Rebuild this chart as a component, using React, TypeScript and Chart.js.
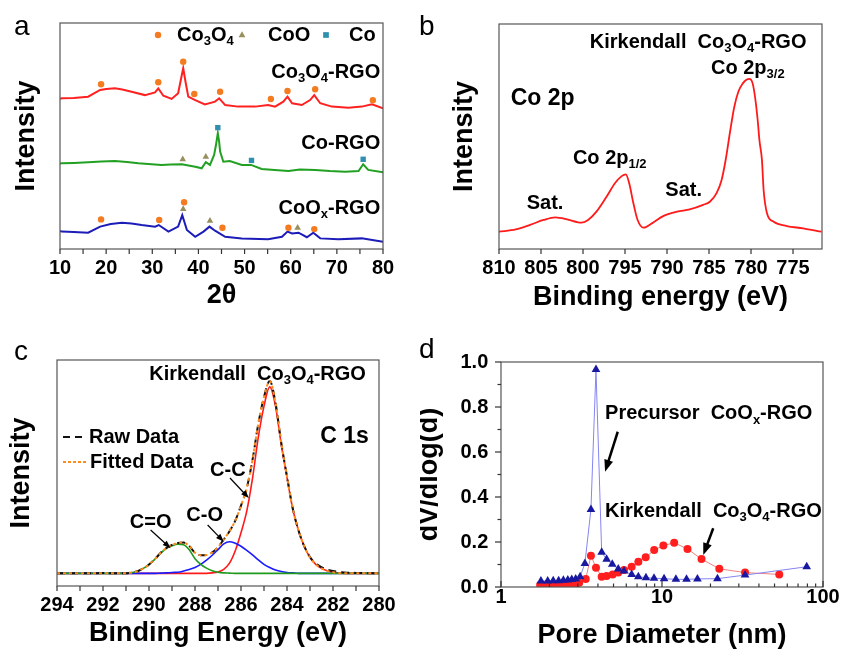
import React, { useEffect, useRef } from 'react';
import { Chart, registerables } from 'chart.js';

Chart.register(...registerables);

const FONT = '"Liberation Sans", Arial, Helvetica, sans-serif';
const TICK_FONT = { family: FONT, size: 20, weight: 'bold' };
const TITLE_FONT = { family: FONT, size: 27, weight: 'bold' };

// ---------------- Panel a : XRD ----------------
const aXTicks = [10, 20, 30, 40, 50, 60, 70, 80];
const aXMinor = [15, 25, 35, 45, 55, 65, 75];
const aCo3O4RgoX = [10, 10.4, 13, 16.1, 18.7, 20, 21.9, 23.5, 25.5, 28.4, 30.6, 31.3, 32.4, 34.2, 35.6, 36.4, 36.7, 37.2, 37.8, 39.3, 41.4, 43.6, 44.5, 45.8, 48.6, 52.3, 55.1, 56.6, 58.4, 59.3, 60.3, 62.4, 64.2, 65.1, 66.4, 68.9, 72.5, 75.4, 77.6, 80];
const aCo3O4RgoY = [66.4, 66.7, 66.8, 67.4, 70.4, 70.8, 71.1, 70.6, 69.6, 68.1, 69.3, 71.1, 67.8, 66.4, 68.9, 77, 80, 74, 67.4, 65.9, 64, 65.2, 66.7, 63.7, 63, 63, 63.7, 63, 65.2, 67.4, 64.5, 63.7, 65.9, 68.1, 64.5, 63, 62.5, 63, 64, 62.3];
const aCoRgoX = [10, 10.4, 13, 16.1, 19, 21.9, 24.5, 27, 32, 34, 36.4, 39.3, 40.7, 41.6, 42.5, 43.4, 43.8, 44.2, 44.5, 44.7, 45.4, 46.8, 49.4, 51.4, 53.7, 56.5, 59.5, 62, 65.3, 68.5, 71.8, 74.7, 75.7, 76.8, 80];
const aCoRgoY = [37.8, 37.9, 38.1, 38.4, 38.7, 38.9, 38.5, 37.9, 37.2, 37.4, 37.5, 36.4, 35.7, 38.4, 37.2, 41.6, 46, 51.2, 47.3, 43.1, 38.6, 38.9, 37.2, 37.2, 35.4, 35, 34.5, 35.2, 35, 34.5, 34.2, 34.5, 37.5, 35, 33.9];
const aCoOxRgoX = [10, 10.4, 13, 16.1, 18.7, 21, 23.4, 25.5, 27.7, 30.6, 31.4, 33.5, 35.6, 36.5, 37.5, 39.3, 41.1, 42.4, 43.6, 45.8, 49.4, 55.1, 58.1, 59.3, 60.3, 61.7, 63.5, 64.9, 66.4, 70.3, 75.4, 80];
const aCoOxRgoY = [8, 7.7, 7.5, 7.2, 9.9, 11.1, 11.6, 11.3, 10.6, 9.9, 10.6, 7.7, 9.9, 15, 8.4, 5.4, 7.7, 9.9, 8.1, 5.4, 4.7, 4.3, 5.4, 7.7, 6.9, 7.2, 5.2, 7.2, 4.7, 4.3, 4.7, 3.2];
const aCo3O4MarkX = [18.9, 31.3, 36.7, 39.1, 44.7, 55.7, 59.3, 65.3, 77.8, 18.9, 31.5, 36.9, 45.2, 59.5, 65.1];
const aCo3O4MarkY = [72.9, 73.8, 82.9, 68.6, 69.6, 66.4, 69.9, 70.7, 65.8, 13.1, 12.8, 20.7, 9.4, 9.4, 8.8];
const aCoOMarkX = [36.6, 41.6, 36.7, 42.5, 61.5];
const aCoOMarkY = [39.7, 40.8, 17.7, 12.5, 9.4];
const aCoMarkX = [44.2, 51.5, 75.7];
const aCoMarkY = [53.7, 39.2, 39.7];
const aLegendLabels = ['Co_3O_4', 'CoO', 'Co'];
const aSampleLabels = ['Co_3O_4-RGO', 'Co-RGO', 'CoO_x-RGO'];

// ---------------- Panel b : Co 2p XPS ----------------
const bXTicks = [810, 805, 800, 795, 790, 785, 780, 775];
const bEnergy = [810, 808, 806.3, 804.7, 803.3, 801.9, 800.75, 800.2, 799.4, 798.4, 797.2, 796.2, 795.4, 794.9, 794.5, 794.0, 793.5, 792.8, 791.8, 790.4, 788.8, 787.3, 785.7, 784.9, 784.1, 783.5, 783, 782.5, 782, 781.5, 781, 780.5, 780.2, 779.8, 779.5, 779.2, 779, 778.7, 778.5, 778.1, 777.3, 775.75, 773.8, 771.6];
const bIntensity = [7.7, 8.7, 10.7, 12.9, 14.1, 13.2, 12, 11.7, 12.9, 16.6, 23.2, 29.2, 32.4, 33.2, 29.2, 20.3, 12.9, 9.5, 11.4, 14.7, 16.6, 17.6, 19.6, 21, 24.8, 30.7, 40, 52, 63, 70, 73.5, 75.3, 75.6, 73.5, 67, 57, 48.4, 39.6, 26.2, 15.9, 12.1, 10.2, 9.2, 7.7];

// ---------------- Panel c : C 1s XPS ----------------
const cXTicks = [294, 292, 290, 288, 286, 284, 282, 280];
const cXMinor = [293, 291, 289, 287, 285, 283, 281];
const cEnergy = [294, 292, 291, 290.75, 290.5, 290.25, 290, 289.75, 289.5, 289.25, 289, 288.75, 288.5, 288.25, 288, 287.75, 287.5, 287.25, 287, 286.75, 286.5, 286.25, 286, 285.75, 285.5, 285.25, 285, 284.75, 284.5, 284.25, 284, 283.75, 283.5, 283.25, 283, 282.75, 282.5, 282.25, 282, 281.5, 281, 280];
const cRaw = [5.6, 5.7, 5.6, 6.0, 6.5, 7.8, 9.5, 11.8, 14.6, 16.8, 18.2, 19.0, 19.2, 17.7, 14.7, 13.6, 13.7, 14.9, 17.2, 20.6, 24.2, 28.9, 35.6, 43.3, 55.8, 71.6, 83.6, 90.7, 81.1, 63.4, 48.5, 34.3, 24.6, 17.6, 12.8, 9.9, 8.4, 7.2, 6.6, 6.0, 5.8, 5.6];
const cFitted = [5.6, 5.6, 5.6, 6.0, 6.5, 7.8, 9.5, 11.8, 14.6, 16.8, 18.2, 19.0, 19.2, 17.7, 14.7, 13.6, 13.7, 14.9, 17.2, 20.6, 24.2, 28.9, 35.6, 43.3, 55.8, 71.6, 83.6, 90.7, 81.1, 63.4, 48.5, 34.3, 24.6, 17.6, 12.6, 9.6, 7.8, 6.7, 6.1, 5.6, 5.6, 5.6];
const cCC = [5.6, 5.6, 5.6, 5.6, 5.6, 5.6, 5.6, 5.6, 5.6, 5.6, 5.6, 5.6, 5.6, 5.6, 5.6, 5.6, 5.6, 5.8, 6.2, 7.4, 10.1, 15.6, 23.6, 33.1, 47.6, 65.6, 79.6, 88.1, 79.6, 62.6, 48.1, 34.1, 24.6, 17.6, 12.6, 9.6, 7.8, 6.7, 6.1, 5.6, 5.6, 5.6];
const cCO = [5.6, 5.6, 5.6, 5.6, 5.6, 5.6, 5.6, 5.6, 5.7, 5.8, 6.0, 6.1, 6.6, 7.3, 8.2, 9.6, 11.4, 13.6, 16.1, 18.6, 19.6, 18.9, 17.6, 15.8, 13.8, 11.6, 9.6, 8.2, 7.1, 6.4, 6.0, 5.8, 5.6, 5.6, 5.6, 5.6, 5.6, 5.6, 5.6, 5.6, 5.6, 5.6];
const cCdO = [5.6, 5.6, 5.6, 6.0, 6.5, 7.8, 9.5, 11.8, 14.5, 16.6, 17.8, 18.5, 18.2, 16.0, 12.1, 9.6, 7.9, 6.7, 6.1, 5.8, 5.7, 5.6, 5.6, 5.6, 5.6, 5.6, 5.6, 5.6, 5.6, 5.6, 5.6, 5.6, 5.6, 5.6, 5.6, 5.6, 5.6, 5.6, 5.6, 5.6, 5.6, 5.6];

// ---------------- Panel d : pore size distribution ----------------
const dXTicks = [1, 10, 100];
const dXMinor = [2, 3, 4, 5, 6, 7, 8, 9, 20, 30, 40, 50, 60, 70, 80, 90];
const dYTicks = [0, 0.2, 0.4, 0.6, 0.8, 1.0];
const dYMinor = [0.1, 0.3, 0.5, 0.7, 0.9];
const dPrecursorX = [1.77, 1.95, 2.11, 2.28, 2.44, 2.6, 2.75, 2.91, 3.1, 3.32, 3.62, 3.89, 4.22, 4.53, 4.91, 5.35, 5.81, 6.48, 7.13, 7.95, 8.92, 10.3, 12.2, 14.2, 16.6, 22.1, 32.8, 79.2];
const dPrecursorY = [0.027, 0.027, 0.028, 0.028, 0.03, 0.031, 0.033, 0.036, 0.046, 0.105, 0.345, 0.967, 0.154, 0.123, 0.101, 0.08, 0.071, 0.056, 0.046, 0.041, 0.039, 0.037, 0.034, 0.034, 0.036, 0.037, 0.053, 0.09];
const dKirkX = [1.75, 1.88, 2.02, 2.13, 2.27, 2.4, 2.53, 2.68, 2.78, 2.95, 3.06, 3.36, 3.62, 3.89, 4.22, 4.53, 4.94, 5.35, 5.81, 6.48, 7.13, 7.92, 8.94, 10.2, 11.9, 14.4, 17.6, 22.7, 32.8, 53.5];
const dKirkY = [0.009, 0.009, 0.009, 0.01, 0.01, 0.01, 0.012, 0.012, 0.013, 0.015, 0.019, 0.036, 0.139, 0.086, 0.046, 0.049, 0.056, 0.065, 0.076, 0.09, 0.112, 0.132, 0.164, 0.184, 0.197, 0.169, 0.124, 0.081, 0.064, 0.056];

// ---------------- helpers ----------------
function pts(xs: number[], ys: number[]) {
  return xs.map((x, i) => ({ x, y: ys[i] }));
}

function parseRich(s: string) {
  const out: { t: string; sub: boolean }[] = [];
  let buf = '';
  for (let i = 0; i < s.length; i++) {
    if (s[i] === '_') {
      if (buf) { out.push({ t: buf, sub: false }); buf = ''; }
      if (s[i + 1] === '{') {
        const j = s.indexOf('}', i);
        out.push({ t: s.slice(i + 2, j), sub: true });
        i = j;
      } else {
        out.push({ t: s[i + 1], sub: true });
        i++;
      }
    } else buf += s[i];
  }
  if (buf) out.push({ t: buf, sub: false });
  return out;
}

function rich(ctx: CanvasRenderingContext2D, s: string, x: number, y: number, align: string, size = 20, weight = 'bold') {
  const segs = parseRich(s);
  const sub = Math.round(size * 0.65);
  const widths = segs.map((g) => {
    ctx.font = `${weight} ${g.sub ? sub : size}px ${FONT}`;
    return ctx.measureText(g.t).width;
  });
  const total = widths.reduce((a, b) => a + b, 0);
  let cx = align === 'left' ? x : align === 'right' ? x - total : x - total / 2;
  ctx.fillStyle = '#000';
  ctx.textAlign = 'left';
  ctx.textBaseline = 'middle';
  segs.forEach((g, i) => {
    ctx.font = `${weight} ${g.sub ? sub : size}px ${FONT}`;
    ctx.fillText(g.t, cx, g.sub ? y + size * 0.3 : y);
    cx += widths[i];
  });
}

function arrow(ctx: CanvasRenderingContext2D, x1: number, y1: number, x2: number, y2: number, w: number, hl: number, hw: number) {
  const a = Math.atan2(y2 - y1, x2 - x1);
  const c = Math.cos(a), s = Math.sin(a);
  ctx.strokeStyle = '#000';
  ctx.fillStyle = '#000';
  ctx.lineWidth = w;
  ctx.beginPath();
  ctx.moveTo(x1, y1);
  ctx.lineTo(x2 - c * hl * 0.7, y2 - s * hl * 0.7);
  ctx.stroke();
  ctx.beginPath();
  ctx.moveTo(x2, y2);
  ctx.lineTo(x2 - hl * c + (hw / 2) * s, y2 - hl * s - (hw / 2) * c);
  ctx.lineTo(x2 - hl * c - (hw / 2) * s, y2 - hl * s + (hw / 2) * c);
  ctx.closePath();
  ctx.fill();
}

function symbol(ctx: CanvasRenderingContext2D, kind: string, x: number, y: number, r: number, color: string) {
  ctx.fillStyle = color;
  ctx.beginPath();
  if (kind === 'circle') ctx.arc(x, y, r, 0, Math.PI * 2);
  else if (kind === 'triangle') {
    ctx.moveTo(x, y - r);
    ctx.lineTo(x + r * 0.9, y + r * 0.6);
    ctx.lineTo(x - r * 0.9, y + r * 0.6);
    ctx.closePath();
  } else ctx.rect(x - r * 0.75, y - r * 0.75, r * 1.5, r * 1.5);
  ctx.fill();
}

function makeDecor(cfg: any) {
  return {
    id: 'decor',
    afterDraw(chart: any) {
      const { ctx, chartArea: ca } = chart;
      const xs = chart.scales.x;
      const ys = chart.scales.y;
      ctx.save();
      ctx.setLineDash([]);
      ctx.strokeStyle = '#555';
      ctx.lineWidth = 1.2;
      ctx.strokeRect(ca.left, ca.top, ca.right - ca.left, ca.bottom - ca.top);
      ctx.strokeStyle = '#333';
      const xt = (vals: number[], len: number) => vals.forEach((v) => {
        const p = xs.getPixelForValue(v);
        ctx.beginPath(); ctx.moveTo(p, ca.bottom); ctx.lineTo(p, ca.bottom + len); ctx.stroke();
      });
      const yt = (vals: number[], len: number) => vals.forEach((v) => {
        const p = ys.getPixelForValue(v);
        ctx.beginPath(); ctx.moveTo(ca.left, p); ctx.lineTo(ca.left - len, p); ctx.stroke();
      });
      if (cfg.xMajor) xt(cfg.xMajor, cfg.xMajorLen);
      if (cfg.xMinor) xt(cfg.xMinor, cfg.xMinorLen);
      if (cfg.yMajor) yt(cfg.yMajor, cfg.yMajorLen);
      if (cfg.yMinor) yt(cfg.yMinor, cfg.yMinorLen);
      (cfg.texts || []).forEach((t: any) => {
        rich(ctx, t.s, xs.getPixelForValue(t.x), ys.getPixelForValue(t.y), t.align, t.size || 20);
      });
      (cfg.arrows || []).forEach((a: any) => {
        arrow(ctx, xs.getPixelForValue(a.x1), ys.getPixelForValue(a.y1), xs.getPixelForValue(a.x2), ys.getPixelForValue(a.y2), a.w, a.hl, a.hw);
      });
      if (cfg.extra) cfg.extra(ctx, ca);
      if (cfg.letter) {
        ctx.fillStyle = '#000';
        ctx.font = `normal 28px ${FONT}`;
        ctx.textAlign = 'left';
        ctx.textBaseline = 'alphabetic';
        ctx.fillText(cfg.letter.s, cfg.letter.x, cfg.letter.y);
      }
      ctx.restore();
    },
  };
}

function buildOptions(p: any) {
  return {
    responsive: false,
    maintainAspectRatio: false,
    animation: false,
    devicePixelRatio: 1,
    events: [],
    layout: { padding: p.pad },
    plugins: { legend: { display: false }, tooltip: { enabled: false }, title: { display: false } },
    scales: {
      x: {
        type: p.xType || 'linear',
        min: p.xMin,
        max: p.xMax,
        reverse: !!p.xReverse,
        grid: { display: false, drawTicks: false },
        border: { display: false },
        afterBuildTicks: (s: any) => { s.ticks = p.xTicks.map((v: number) => ({ value: v })); },
        afterFit: (s: any) => { s.height = p.xHeight; },
        ticks: {
          autoSkip: false, maxRotation: 0, minRotation: 0, padding: p.xLabelPad, color: '#000', font: TICK_FONT,
          callback: (v: any) => String(v),
        },
        title: { display: true, text: p.xTitle, color: '#000', font: TITLE_FONT, padding: { top: 0, bottom: p.xTitlePad } },
      },
      y: {
        type: 'linear',
        position: 'left',
        min: p.yMin,
        max: p.yMax,
        grid: { display: false, drawTicks: false },
        border: { display: false },
        afterBuildTicks: (s: any) => { if (p.yTicks) s.ticks = p.yTicks.map((v: number) => ({ value: v })); },
        afterFit: (s: any) => { s.width = p.yWidth; },
        ticks: {
          display: !!p.yTicks, autoSkip: false, padding: p.yLabelPad || 0, color: '#000', font: TICK_FONT,
          callback: (v: any) => Number(v).toFixed(1),
        },
        title: { display: true, text: p.yTitle, color: '#000', font: TITLE_FONT, padding: { top: p.yTitlePad, bottom: 0 } },
      },
    },
  };
}

function lineDs(data: any[], color: string, width: number, extra: any = {}) {
  return { data, borderColor: color, backgroundColor: color, borderWidth: width, pointRadius: 0, fill: false, tension: 0, ...extra };
}

function markDs(data: any[], style: string, r: number, color: string) {
  return {
    data, showLine: false, pointStyle: style, pointRadius: r, pointBorderWidth: 0,
    pointBackgroundColor: color, pointBorderColor: color, borderColor: color, backgroundColor: color,
  };
}

// ---------------- panel configs ----------------
function makeA() {
  return {
    type: 'line',
    data: {
      datasets: [
        markDs(pts(aCo3O4MarkX, aCo3O4MarkY), 'circle', 3.2, '#f47b20'),
        markDs(pts(aCoOMarkX, aCoOMarkY), 'triangle', 3.8, '#978f5c'),
        markDs(pts(aCoMarkX, aCoMarkY), 'rect', 3.8, '#2e8fae'),
        lineDs(pts(aCo3O4RgoX, aCo3O4RgoY), '#ff2020', 2),
        lineDs(pts(aCoRgoX, aCoRgoY), '#22a022', 2),
        lineDs(pts(aCoOxRgoX, aCoOxRgoY), '#1c1cb8', 2),
      ],
    },
    options: buildOptions({
      pad: { left: 0, right: 37, top: 23, bottom: 0 },
      xMin: 10, xMax: 80, xTicks: aXTicks, xLabelPad: 7, xHeight: 76, xTitle: '2θ', xTitlePad: 13,
      yMin: 0, yMax: 100, yWidth: 60, yTitle: 'Intensity', yTitlePad: 10.8,
    }),
    plugins: [makeDecor({
      xMajor: aXTicks, xMajorLen: 5, xMinor: aXMinor, xMinorLen: 5,
      texts: [
        { x: 79.4, y: 78.3, s: aSampleLabels[0], align: 'right' },
        { x: 79.4, y: 46.9, s: aSampleLabels[1], align: 'right' },
        { x: 79.4, y: 18.1, s: aSampleLabels[2], align: 'right' },
      ],
      extra: (ctx: CanvasRenderingContext2D, ca: any) => {
        const y = ca.top + 12;
        symbol(ctx, 'circle', ca.left + 98, y, 3.2, '#f47b20');
        rich(ctx, aLegendLabels[0], ca.left + 117, y, 'left');
        symbol(ctx, 'triangle', ca.left + 182, y, 3.8, '#978f5c');
        rich(ctx, aLegendLabels[1], ca.left + 208, y, 'left');
        symbol(ctx, 'rect', ca.left + 266, y, 3.8, '#2e8fae');
        rich(ctx, aLegendLabels[2], ca.left + 289, y, 'left');
      },
      letter: { s: 'a', x: 14, y: 35 },
    })],
  };
}

function makeB() {
  return {
    type: 'line',
    data: {
      datasets: [
        lineDs(pts(bEnergy, bIntensity), '#ff1a1a', 1.8, { cubicInterpolationMode: 'monotone' }),
      ],
    },
    options: buildOptions({
      pad: { left: 0, right: 19, top: 24, bottom: 0 },
      xMin: 771.55, xMax: 810, xReverse: true, xTicks: bXTicks, xLabelPad: 7, xHeight: 76, xTitle: 'Binding energy (eV)', xTitlePad: 11.5,
      yMin: 0, yMax: 100, yWidth: 79, yTitle: 'Intensity', yTitlePad: 28.8,
    }),
    plugins: [makeDecor({
      xMajor: bXTicks, xMajorLen: 5,
      texts: [
        { x: 773.4, y: 91.6, s: 'Kirkendall  Co_3O_4-RGO', align: 'right' },
        { x: 776, y: 80.4, s: 'Co 2p_{3/2}', align: 'right' },
        { x: 808.6, y: 66.7, s: 'Co 2p', align: 'left', size: 23 },
        { x: 801.2, y: 40.4, s: 'Co 2p_{1/2}', align: 'left' },
        { x: 806.7, y: 20.4, s: 'Sat.', align: 'left' },
        { x: 790.2, y: 26.2, s: 'Sat.', align: 'left' },
      ],
      letter: { s: 'b', x: -1, y: 35 },
    })],
  };
}

function makeC() {
  const mono = { cubicInterpolationMode: 'monotone' };
  return {
    type: 'line',
    data: {
      datasets: [
        lineDs(pts(cEnergy, cFitted), '#ff8c1a', 2, { ...mono, borderDash: [3, 3] }),
        lineDs(pts(cEnergy, cRaw), '#111111', 2, { ...mono, borderDash: [8, 5] }),
        lineDs(pts(cEnergy, cCdO), '#1f9a1f', 1.6, mono),
        lineDs(pts(cEnergy, cCO), '#1a1aff', 1.6, mono),
        lineDs(pts(cEnergy, cCC), '#ff1a1a', 1.6, mono),
      ],
    },
    options: buildOptions({
      pad: { left: 0, right: 41, top: 35, bottom: 0 },
      xMin: 280, xMax: 294, xReverse: true, xTicks: cXTicks, xLabelPad: 7, xHeight: 64, xTitle: 'Binding Energy (eV)', xTitlePad: 0.5,
      yMin: 0, yMax: 100, yWidth: 57, yTitle: 'Intensity', yTitlePad: 5.5,
    }),
    plugins: [makeDecor({
      xMajor: cXTicks, xMajorLen: 5, xMinor: cXMinor, xMinorLen: 5,
      texts: [
        { x: 280.57, y: 93.4, s: 'Kirkendall  Co_3O_4-RGO', align: 'right' },
        { x: 280.44, y: 65.9, s: 'C 1s', align: 'right', size: 23 },
        { x: 286.57, y: 51.3, s: 'C-C', align: 'center' },
        { x: 287.58, y: 31.4, s: 'C-O', align: 'center' },
        { x: 289.93, y: 27.9, s: 'C=O', align: 'center' },
      ],
      arrows: [
        { x1: 286.48, y1: 47.8, x2: 285.66, y2: 38.9, w: 1.2, hl: 8, hw: 6 },
        { x1: 287.45, y1: 27, x2: 286.75, y2: 19.6, w: 1.2, hl: 8, hw: 6 },
        { x1: 289.93, y1: 24.8, x2: 289.06, y2: 16.7, w: 1.2, hl: 8, hw: 6 },
      ],
      extra: (ctx: CanvasRenderingContext2D, ca: any) => {
        const y1 = ca.top + 77;
        const y2 = ca.top + 102;
        ctx.lineWidth = 2;
        ctx.strokeStyle = '#111';
        ctx.setLineDash([7, 5]);
        ctx.beginPath(); ctx.moveTo(ca.left + 6, y1); ctx.lineTo(ca.left + 29, y1); ctx.stroke();
        ctx.strokeStyle = '#ff8c1a';
        ctx.setLineDash([3, 2]);
        ctx.beginPath(); ctx.moveTo(ca.left + 6, y2); ctx.lineTo(ca.left + 29, y2); ctx.stroke();
        ctx.setLineDash([]);
        rich(ctx, 'Raw Data', ca.left + 32, y1, 'left');
        rich(ctx, 'Fitted Data', ca.left + 33, y2, 'left');
      },
      letter: { s: 'c', x: 14, y: 35 },
    })],
  };
}

function makeD() {
  return {
    type: 'line',
    data: {
      datasets: [
        lineDs(pts(dPrecursorX, dPrecursorY), '#8585f2', 1, {
          pointStyle: 'triangle', pointRadius: 5, pointBackgroundColor: '#1818a0', pointBorderColor: '#1818a0', pointBorderWidth: 0,
        }),
        lineDs(pts(dKirkX, dKirkY), '#f28080', 1, {
          pointStyle: 'circle', pointRadius: 4, pointBackgroundColor: '#ff1f1f', pointBorderColor: '#ff1f1f', pointBorderWidth: 0,
        }),
      ],
    },
    options: buildOptions({
      pad: { left: 0, right: 18, top: 37, bottom: 0 },
      xType: 'logarithmic', xMin: 1, xMax: 100, xTicks: dXTicks, xLabelPad: -2, xHeight: 63, xTitle: 'Pore Diameter (nm)', xTitlePad: -2,
      yMin: 0, yMax: 1, yTicks: dYTicks, yLabelPad: 12.7, yWidth: 81, yTitle: 'dV/dlog(d)', yTitlePad: -6.2,
    }),
    plugins: [makeDecor({
      xMajor: dXTicks, xMajorLen: -6, xMinor: dXMinor, xMinorLen: -3.5,
      yMajor: dYTicks, yMajorLen: 6, yMinor: dYMinor, yMinorLen: 3.5,
      texts: [
        { x: 4.43, y: 0.769, s: 'Precursor  CoO_x-RGO', align: 'left' },
        { x: 4.43, y: 0.335, s: 'Kirkendall  Co_3O_4-RGO', align: 'left' },
      ],
      arrows: [
        { x1: 5.31, y1: 0.69, x2: 4.43, y2: 0.512, w: 2.5, hl: 12, hw: 9 },
        { x1: 20.8, y1: 0.261, x2: 18.05, y2: 0.142, w: 2.5, hl: 12, hw: 9 },
      ],
      letter: { s: 'd', x: -1, y: 33 },
    })],
  };
}

function Panel({ make, left, top, width, height }: any) {
  const ref = useRef<HTMLCanvasElement | null>(null);
  useEffect(() => {
    if (!ref.current) return;
    const chart = new Chart(ref.current, make() as any);
    return () => chart.destroy();
  }, [make]);
  return (
    <div style={{ position: 'absolute', left, top, width, height }}>
      <canvas ref={ref} width={width} height={height} style={{ display: 'block', width, height }} />
    </div>
  );
}

export default function App() {
  return (
    <div style={{ position: 'absolute', left: 0, top: 0, width: 841, height: 650, background: '#fff', overflow: 'hidden' }}>
      <Panel make={makeA} left={0} top={0} width={420} height={325} />
      <Panel make={makeB} left={420} top={0} width={421} height={325} />
      <Panel make={makeC} left={0} top={325} width={420} height={325} />
      <Panel make={makeD} left={420} top={325} width={421} height={325} />
    </div>
  );
}
